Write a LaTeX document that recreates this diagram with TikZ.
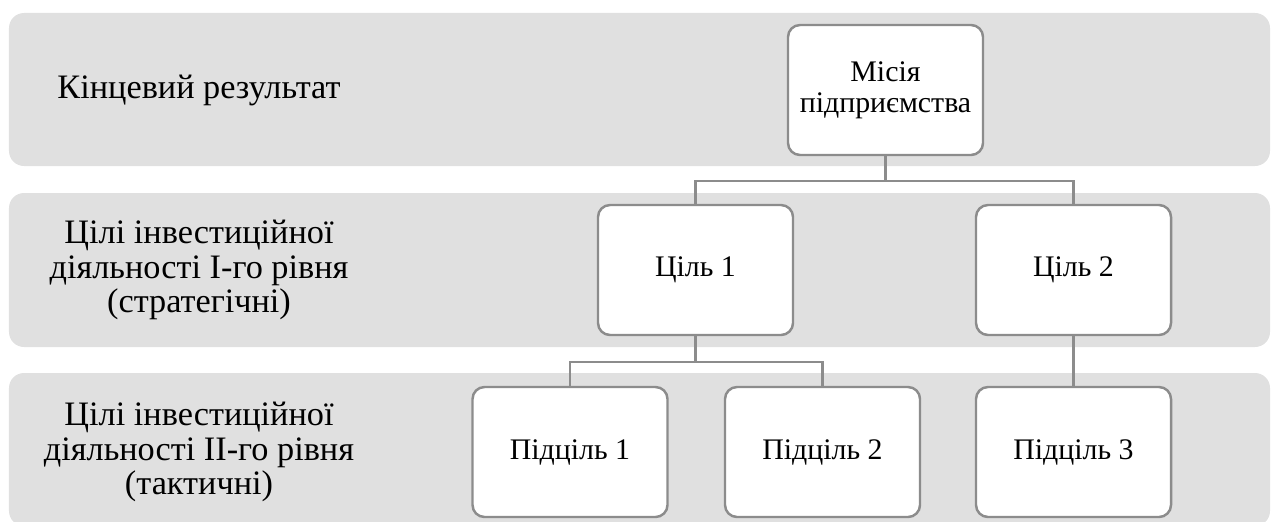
\documentclass[tikz,border=0pt]{standalone}
\usepackage{fontspec}
\setmainfont{Liberation Serif}
\usetikzlibrary{positioning}

\definecolor{bandgray}{HTML}{E0E0E0}
\definecolor{linegray}{HTML}{8C8C8C}

\begin{document}
\begin{tikzpicture}[on grid,
	font=\fontsize{17}{17.5}\selectfont,
	band/.style={fill=bandgray, draw=none, rounded corners=0.3cm},
	goal/.style={draw=linegray, fill=white, line width=1.4pt, rounded corners=0.24cm,
		minimum width=3.9cm, minimum height=2.6cm, align=center},
	level/.style={align=center, font=\fontsize{19.5}{19.5}\selectfont},
	link/.style={draw=linegray, line width=1.4pt}]
	
	\useasboundingbox (0,0) rectangle (25.44,-10.42);
	
	% bands
	\fill [band] (0.18,-0.26) rectangle (25.40,-3.32);
	\fill [band] (0.18,-3.86) rectangle (25.40,-6.94);
	\fill [band] (0.18,-7.46) rectangle (25.40,-10.52);
	
	\node (lvl0) [level] at (3.98,-1.80) {Кінцевий результат};
	\node (lvl1) [level] at (3.98,-5.40) {Цілі інвестиційної\\діяльності I-го рівня\\(стратегічні)};
	\node (lvl2) [level] at (3.98,-9.04) {Цілі інвестиційної\\діяльності II-го рівня\\(тактичні)};
	
	% tree
	\node (mis) [goal] at (17.71,-1.80) {Місія\\підприємства};
	\node (g1) [goal] at (13.91,-5.40) {Ціль 1};
	\node (g2) [goal, right=7.56cm of g1] {Ціль 2};
	\node (s1) [goal] at (11.40,-9.04) {Підціль 1};
	\node (s2) [goal, right=5.05cm of s1] {Підціль 2};
	\node (s3) [goal, below=3.64cm of g2] {Підціль 3};
	
	\coordinate (j1) at (17.71,-3.62);
	\coordinate (j2) at (13.91,-7.24);
	
	\draw [link] (mis) -- (j1) -| (g1);
	\draw [link] (j1) -| (g2);
	\draw [link] (g1) -- (j2) -| (s1);
	\draw [link] (j2) -| (s2);
	\draw [link] (g2) -- (s3);
	
\end{tikzpicture}
\end{document}
